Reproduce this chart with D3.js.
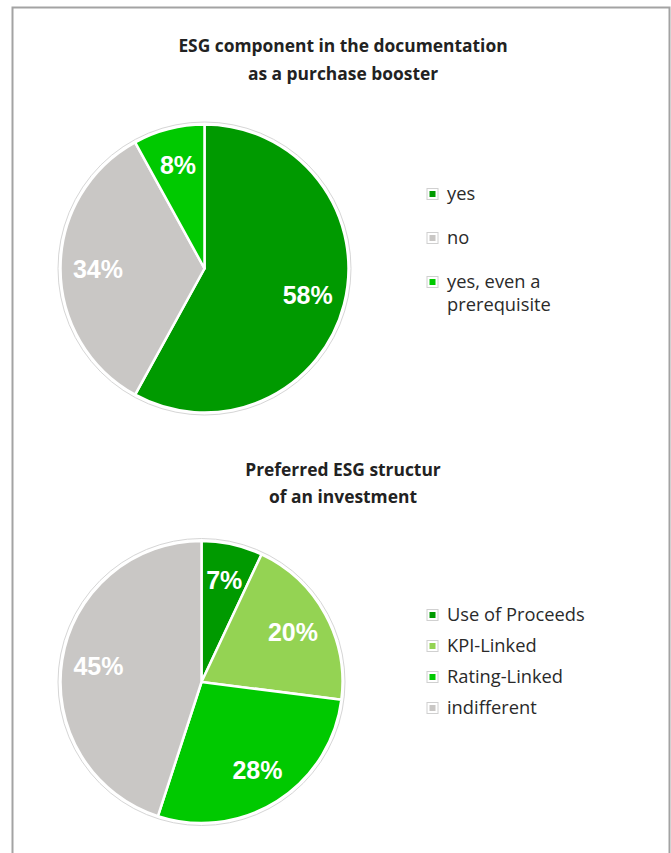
<!DOCTYPE html>
<html>
<head>
<meta charset="utf-8">
<script src="https://cdn.jsdelivr.net/npm/d3@7"></script>
<style>
  html, body { margin: 0; padding: 0; background: #fff; }
  svg { display: block; }
</style>
</head>
<body>
<svg id="chart" width="671" height="853"></svg>
<script>
// Survey results: ESG component as purchase booster
const boosterCategories = ["yes", "no", "yes, even a prerequisite"];
const boosterValues = [58, 34, 8];
const boosterColors = ["#009a00", "#c9c7c5", "#00c900"];
const boosterTitle = ["ESG component in the documentation", "as a purchase booster"];
const boosterLegend = [["yes"], ["no"], ["yes, even a", "prerequisite"]];

// Survey results: preferred ESG structure
const structureCategories = ["Use of Proceeds", "KPI-Linked", "Rating-Linked", "indifferent"];
const structureValues = [7, 20, 28, 45];
const structureColors = ["#009a00", "#94d353", "#00c900", "#c9c7c5"];
const structureTitle = ["Preferred ESG structur", "of an investment"];

const svg = d3.select("#chart");
const W = 671, H = 853;

// outer frame (open at the bottom)
svg.append("path")
  .attr("d", d3.line()([[12.5, H], [12.5, 7.5], [669.5, 7.5], [669.5, H]]))
  .attr("fill", "none")
  .attr("stroke", "#a3a3a3")
  .attr("stroke-width", 2);

const textFont = "'Open Sans', 'Noto Sans', sans-serif";

function drawTitle(lines, cx, y0, lh) {
  svg.append("text")
    .attr("x", cx).attr("y", y0)
    .attr("text-anchor", "middle")
    .attr("font-family", textFont)
    .attr("font-weight", 700)
    .attr("font-size", 17.4)
    .attr("fill", "#222")
    .selectAll("tspan").data(lines).join("tspan")
    .attr("x", cx)
    .attr("dy", (d, i) => i === 0 ? 0 : lh)
    .text(d => d);
}

function drawPie(values, colors, cx, cy, r) {
  const g = svg.append("g").attr("transform", `translate(${cx},${cy})`);
  const pie = d3.pie().sort(null).value(d => d)(values);
  const arc = d3.arc().innerRadius(0).outerRadius(r);
  const labelArc = d3.arc().innerRadius(r * 0.74).outerRadius(r * 0.74);

  // faint ring around the pie
  g.append("circle").attr("r", r + 2.5)
    .attr("fill", "none").attr("stroke", "#d6d6d6").attr("stroke-width", 1);

  g.selectAll("path.slice").data(pie).join("path")
    .attr("class", "slice")
    .attr("d", arc)
    .attr("fill", (d, i) => colors[i])
    .attr("stroke", "#fff")
    .attr("stroke-width", 2.5)
    .attr("stroke-linejoin", "round");

  g.selectAll("text.val").data(pie).join("text")
    .attr("class", "val")
    .attr("transform", d => `translate(${labelArc.centroid(d)})`)
    .attr("text-anchor", "middle")
    .attr("dy", "0.36em")
    .attr("font-family", "'Liberation Sans', Arial, sans-serif")
    .attr("font-weight", 700)
    .attr("font-size", 25)
    .attr("fill", "#fff")
    .text(d => d.data + "%");
}

function drawLegend(rows, colors, x, ys, lh) {
  rows.forEach((lines, i) => {
    const y = ys[i];
    svg.append("rect")
      .attr("x", x).attr("y", y - 5.5).attr("width", 11).attr("height", 11)
      .attr("fill", "#fff").attr("stroke", "#d0d0d0").attr("stroke-width", 1);
    svg.append("rect")
      .attr("x", x + 2.5).attr("y", y - 3).attr("width", 6).attr("height", 6)
      .attr("fill", colors[i]);
    svg.append("text")
      .attr("x", x + 20).attr("y", y)
      .attr("font-family", textFont)
      .attr("font-size", 18.3)
      .attr("fill", "#2a2a2a")
      .selectAll("tspan").data(lines).join("tspan")
      .attr("x", x + 20)
      .attr("dy", (d, j) => j === 0 ? "0.35em" : lh)
      .text(d => d);
  });
}

// first chart
drawTitle(boosterTitle, 343, 52, 28);
drawPie(boosterValues, boosterColors, 204.5, 268.5, 144);
drawLegend(boosterLegend, boosterColors, 427, [194, 238, 282], 23);

// second chart
drawTitle(structureTitle, 343, 476, 27);
drawPie(structureValues, structureColors, 201.5, 682, 141);
drawLegend(structureCategories.map(c => [c]), structureColors, 427, [615, 646, 677, 708], 23);
</script>
</body>
</html>
